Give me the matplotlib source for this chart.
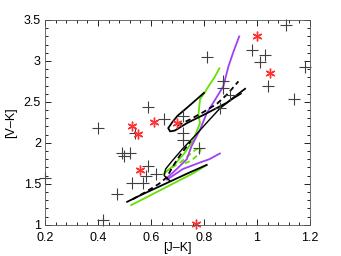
import matplotlib
matplotlib.use('Agg')
from matplotlib import pyplot as plt
from matplotlib.ticker import AutoMinorLocator
import numpy as np

plt.rcParams['font.family'] = ['Liberation Sans', 'DejaVu Sans']

# observed stars (+)
obs_jk = [1.11, 0.98, 1.03, 1.01, 1.18, 1.04, 1.14, 0.81, 0.87, 0.87, 0.90, 0.86,
          0.59, 0.65, 0.40, 0.72, 0.72, 0.72, 0.49, 0.50, 0.52, 0.54, 0.59, 0.58,
          0.53, 0.57, 0.62, 0.78, 0.47, 0.42, 0.20]
obs_vk = [3.44, 3.13, 3.07, 2.99, 2.93, 2.70, 2.54, 3.05, 2.76, 2.67, 2.58, 2.42,
          2.44, 2.29, 2.18, 2.33, 2.12, 2.04, 1.88, 1.84, 1.88, 2.12, 1.72, 1.60,
          1.51, 1.51, 1.62, 1.94, 1.38, 1.06, 1.57]

# special stars (red asterisks)
red_jk = [1.00, 1.05, 0.53, 0.55, 0.61, 0.70, 0.56, 0.77]
red_vk = [3.30, 2.85, 2.21, 2.11, 2.25, 2.24, 1.67, 1.01]

# model tracks
blk_a_jk = [0.80, 0.74, 0.70, 0.68, 0.665, 0.672, 0.69, 0.735, 0.81, 0.886, 0.955]
blk_a_vk = [2.61, 2.44, 2.33, 2.25, 2.18, 2.14, 2.15, 2.24, 2.36, 2.49, 2.66]
blk_b_jk = [0.51, 0.56, 0.62, 0.68, 0.74, 0.81]
blk_b_vk = [1.28, 1.36, 1.45, 1.54, 1.63, 1.73]
blk_c_jk = [0.67, 0.65, 0.655, 0.68, 0.72, 0.77, 0.82, 0.86, 0.90, 0.94]
blk_c_vk = [1.54, 1.60, 1.68, 1.78, 1.93, 2.10, 2.28, 2.42, 2.52, 2.60]
dsh_a_jk = [0.53, 0.58, 0.63, 0.66, 0.68, 0.71, 0.75]
dsh_a_vk = [1.31, 1.40, 1.50, 1.58, 1.70, 1.85, 2.02]
dsh_b_jk = [0.70, 0.75, 0.80, 0.85, 0.89, 0.93]
dsh_b_vk = [2.21, 2.29, 2.38, 2.48, 2.60, 2.75]
grn_a_jk = [0.525, 0.58, 0.64, 0.70, 0.76, 0.81]
grn_a_vk = [1.24, 1.33, 1.43, 1.53, 1.63, 1.73]
grn_b_jk = [0.647, 0.684, 0.728, 0.76, 0.785, 0.779, 0.785, 0.80, 0.817, 0.84, 0.858]
grn_b_vk = [1.62, 1.72, 1.88, 2.04, 2.24, 2.34, 2.53, 2.60, 2.69, 2.80, 2.91]
grn_d_jk = [0.65, 0.68, 0.71, 0.74, 0.77, 0.79, 0.78, 0.75, 0.72]
grn_d_vk = [1.64, 1.70, 1.76, 1.84, 1.92, 1.94, 1.86, 1.78, 1.74]
prp_a_jk = [0.66, 0.697, 0.735, 0.753, 0.785, 0.81, 0.835, 0.873, 0.892, 0.911, 0.933]
prp_a_vk = [1.57, 1.68, 1.80, 1.96, 2.16, 2.36, 2.49, 2.69, 2.93, 3.11, 3.30]
prp_b_jk = [0.66, 0.72, 0.785, 0.82, 0.86]
prp_b_vk = [1.55, 1.68, 1.76, 1.80, 1.87]

fig = plt.figure(figsize=(3.41, 2.56), dpi=100)
ax = fig.add_axes([0.132, 0.122, 0.777, 0.80])

green = '#66e000'
purple = '#a040f0'
ax.plot(grn_a_jk, grn_a_vk, color=green, lw=1.3)
ax.plot(grn_b_jk, grn_b_vk, color=green, lw=1.3)
ax.plot(grn_d_jk, grn_d_vk, color=green, lw=1.3, ls=(0, (3, 2)))
ax.plot(prp_a_jk, prp_a_vk, color=purple, lw=1.3)
ax.plot(prp_b_jk, prp_b_vk, color=purple, lw=1.3)
ax.plot(blk_a_jk, blk_a_vk, color='k', lw=1.3)
ax.plot(blk_b_jk, blk_b_vk, color='k', lw=1.3)
ax.plot(blk_c_jk, blk_c_vk, color='k', lw=1.0)
ax.plot(dsh_a_jk, dsh_a_vk, color='k', lw=1.3, ls=(0, (3, 2)))
ax.plot(dsh_b_jk, dsh_b_vk, color='k', lw=1.3, ls=(0, (3, 2)))

ax.plot(obs_jk, obs_vk, ls='none', marker='+', ms=8, mew=0.8, color='#404040', clip_on=False)
ax.plot(red_jk, red_vk, ls='none', marker=(6, 2, 0), ms=7, mew=1.0, color='#ff3030', clip_on=False)

ax.set_xlim(0.2, 1.2)
ax.set_ylim(1.0, 3.5)
ax.xaxis.set_minor_locator(AutoMinorLocator(5))
ax.yaxis.set_minor_locator(AutoMinorLocator(5))
ax.set_xticks([0.2, 0.4, 0.6, 0.8, 1.0, 1.2])
ax.set_xticklabels(['0.2', '0.4', '0.6', '0.8', '1', '1.2'])
ax.set_yticks([1, 1.5, 2, 2.5, 3, 3.5])
ax.set_yticklabels(['1', '1.5', '2', '2.5', '3', '3.5'])
ax.tick_params(which='both', direction='in', top=True, right=True, labelsize=9, width=0.6)
ax.tick_params(which='major', length=4)
ax.tick_params(which='minor', length=2)
ax.tick_params(axis='x', pad=5.5)
ax.tick_params(axis='y', pad=3)
for s in ax.spines.values():
    s.set_linewidth(0.6)
    s.set_color('#555555')
ax.set_xlabel('[J\u2013K]', fontsize=9, labelpad=-2)
ax.set_ylabel('[V\u2013K]', fontsize=9, labelpad=5)

fig.savefig('out.png', dpi=100)
